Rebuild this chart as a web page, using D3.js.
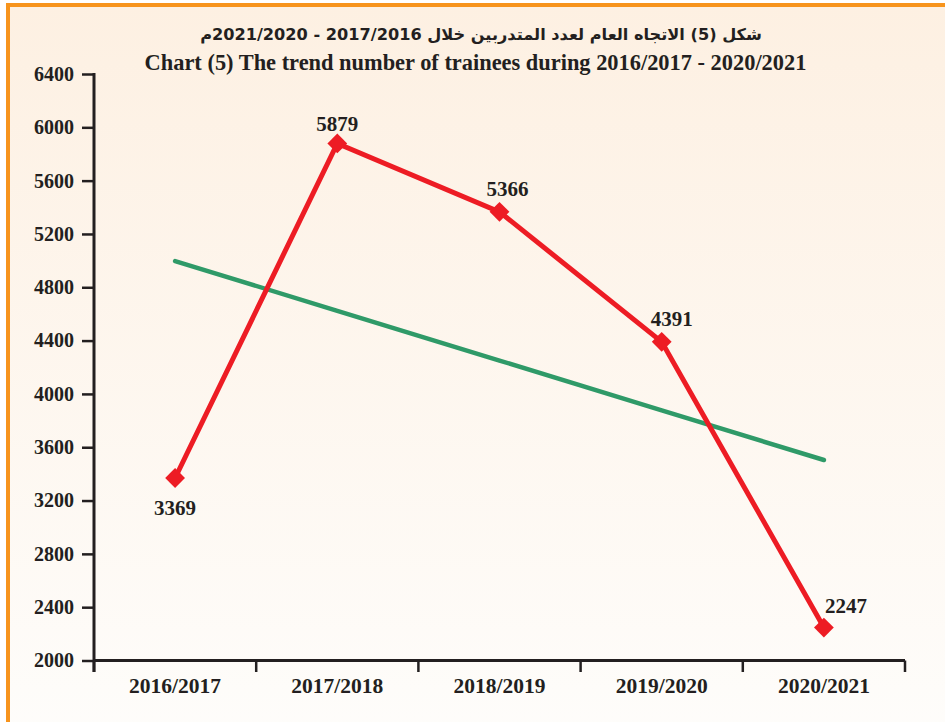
<!DOCTYPE html>
<html><head><meta charset="utf-8">
<script src="https://cdn.jsdelivr.net/npm/d3@7"></script>
<style>html,body{margin:0;padding:0;background:#fff;} svg{display:block;}</style>
</head><body><svg id="chart" width="945" height="722"></svg>
<script>
// ---- data ----
const categories = ["2016/2017", "2017/2018", "2018/2019", "2019/2020", "2020/2021"];
const trainees = [3369, 5879, 5366, 4391, 2247];
const yTicks = [2000, 2400, 2800, 3200, 3600, 4000, 4400, 4800, 5200, 5600, 6000, 6400];
const titleAr = "شكل (5) الاتجاه العام لعدد المتدربين خلال 2017/2016 - 2021/2020م";
const titleEn = "Chart (5) The trend number of trainees during 2016/2017 - 2020/2021";

// ---- layout / style ----
const W = 945, H = 722;
const ink = "#231F20", red = "#ED1C24", green = "#2F9A68", orange = "#F7941D";
const serif = "'Liberation Serif','Times New Roman',serif";
const svg = d3.select("#chart");

const defs = svg.append("defs");
const grad = defs.append("linearGradient").attr("id", "bg").attr("x1", 0).attr("y1", 0).attr("x2", 0).attr("y2", 1);
grad.append("stop").attr("offset", "0%").attr("stop-color", "#FDF0E2");
grad.append("stop").attr("offset", "100%").attr("stop-color", "#FEFDFB");

svg.append("rect").attr("width", W).attr("height", H).attr("fill", "#fff");
svg.append("rect").attr("x", 8).attr("y", 5).attr("width", W + 20).attr("height", H + 20)
  .attr("fill", "url(#bg)").attr("stroke", orange).attr("stroke-width", 4);

const y = d3.scaleLinear().domain([2000, 6400]).range([660.5, 74]);
const x = d3.scaleBand().domain(categories).range([94, 905]);
const cx = c => x(c) + x.bandwidth() / 2;

// ---- titles ----
const tAr = svg.append("text").attr("x", 481).attr("y", 40)
  .attr("text-anchor", "middle").attr("direction", "rtl")
  .style("font-family", "'DejaVu Sans','Noto Sans',sans-serif").style("font-weight", "bold")
  .style("font-size", "18px").attr("fill", ink).text(titleAr);
const arLen = tAr.node().getComputedTextLength();
tAr.style("font-size", (18 * 562 / arLen) + "px");

svg.append("text").attr("x", 475.5).attr("y", 70).attr("text-anchor", "middle")
  .style("font-family", serif).style("font-weight", "bold").style("font-size", "22.4px")
  .attr("fill", ink).text(titleEn);

// ---- y axis ----
const gy = svg.append("g").attr("transform", "translate(94,0)")
  .call(d3.axisLeft(y).tickValues(yTicks).tickSize(12).tickPadding(8).tickFormat(d3.format("d")));
gy.select(".domain").remove();
gy.selectAll(".tick line").attr("stroke", ink).attr("stroke-width", 2.5);
gy.selectAll(".tick text").attr("fill", ink)
  .style("font-family", serif).style("font-weight", "bold").style("font-size", "20px");
svg.append("line").attr("x1", 94).attr("x2", 94).attr("y1", 73).attr("y2", 672)
  .attr("stroke", ink).attr("stroke-width", 3);

// ---- x axis ----
const gx = svg.append("g").attr("transform", "translate(0,660.5)")
  .call(d3.axisBottom(x).tickSize(0).tickPadding(17));
gx.select(".domain").remove();
gx.selectAll(".tick text").attr("fill", ink)
  .style("font-family", serif).style("font-weight", "bold").style("font-size", "21.5px");
svg.append("line").attr("x1", 94).attr("x2", 905).attr("y1", 660.5).attr("y2", 660.5)
  .attr("stroke", ink).attr("stroke-width", 3);
const bounds = categories.map(c => x(c)).concat([x.range()[1]]);
svg.append("g").selectAll("line").data(bounds).join("line")
  .attr("x1", d => d).attr("x2", d => d).attr("y1", 660.5).attr("y2", 672)
  .attr("stroke", ink).attr("stroke-width", 2.5);

// ---- linear trend (least squares of the series) ----
const xs = trainees.map((_, i) => i + 1);
const mx = d3.mean(xs), my = d3.mean(trainees);
const slope = d3.sum(xs.map((xi, i) => (xi - mx) * (trainees[i] - my))) / d3.sum(xs.map(xi => (xi - mx) ** 2));
const trend = xs.map(xi => my + slope * (xi - mx));
svg.append("path")
  .datum(trend)
  .attr("d", d3.line().x((d, i) => cx(categories[i])).y(d => y(d)))
  .attr("fill", "none").attr("stroke", green).attr("stroke-width", 4.5).attr("stroke-linecap", "round");

// ---- data line ----
svg.append("path")
  .datum(trainees)
  .attr("d", d3.line().x((d, i) => cx(categories[i])).y(d => y(d)))
  .attr("fill", "none").attr("stroke", red).attr("stroke-width", 5).attr("stroke-linejoin", "miter");

svg.append("g").selectAll("path").data(trainees).join("path")
  .attr("d", d3.symbol(d3.symbolSquare, 196)())
  .attr("transform", (d, i) => `translate(${cx(categories[i])},${y(d)}) rotate(45)`)
  .attr("fill", red);

// label offsets (dx, dy) relative to each point
const labelOffset = [[0, 37], [0, -12], [8, -16], [10, -16], [22, -15]];
svg.append("g").selectAll("text").data(trainees).join("text")
  .attr("x", (d, i) => cx(categories[i]) + labelOffset[i][0])
  .attr("y", (d, i) => y(d) + labelOffset[i][1])
  .attr("text-anchor", "middle")
  .style("font-family", serif).style("font-weight", "bold").style("font-size", "21px")
  .attr("fill", ink).text(d => d);
</script></body></html>
